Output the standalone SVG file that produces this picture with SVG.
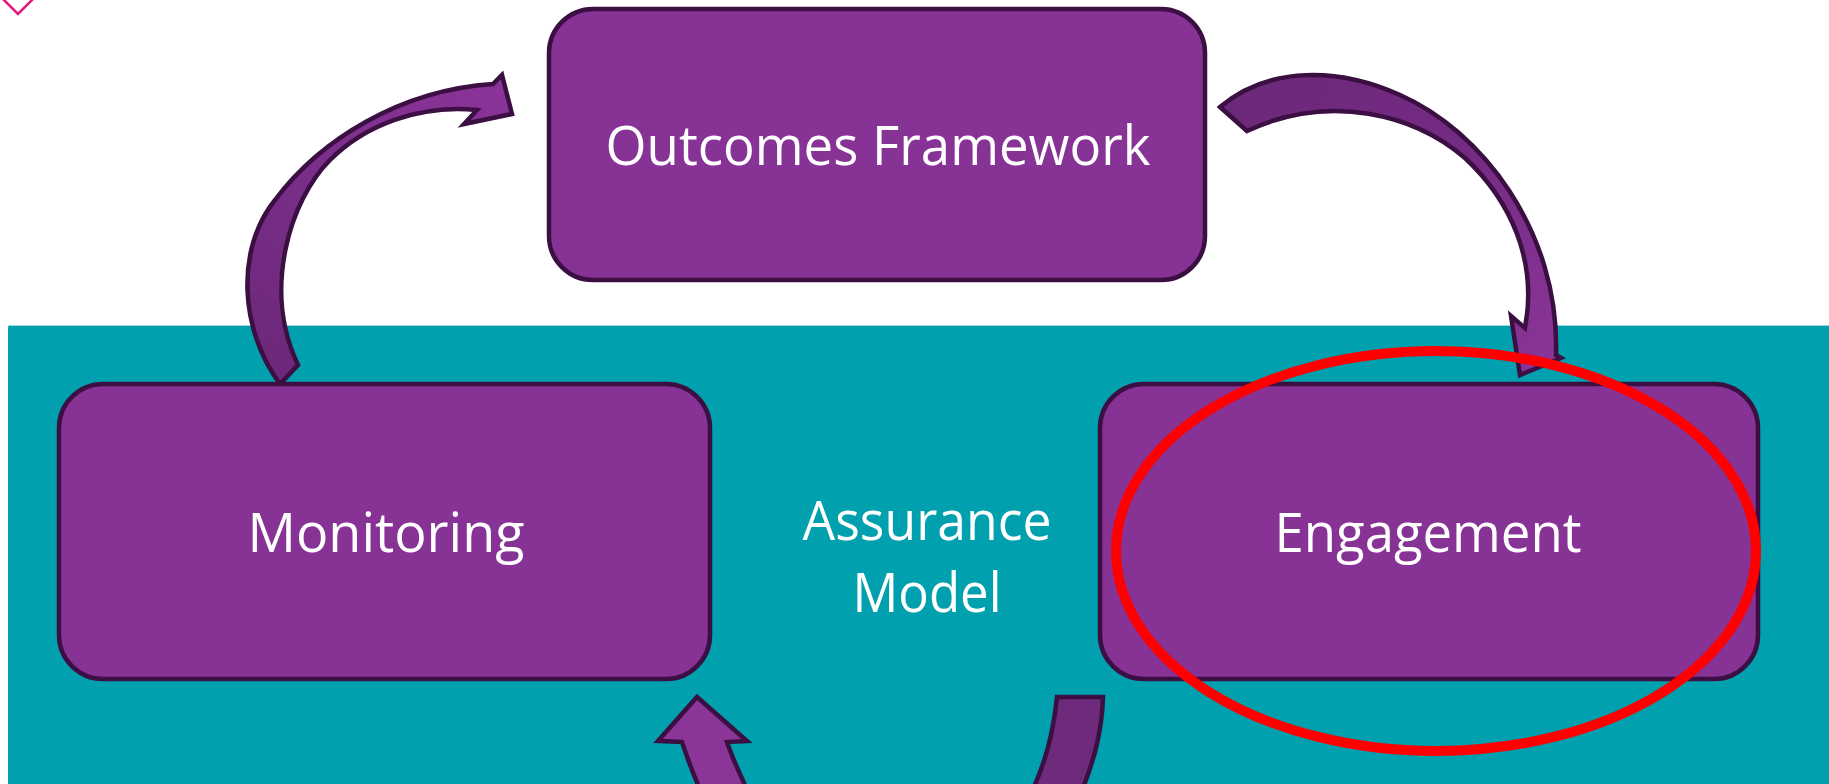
<svg xmlns="http://www.w3.org/2000/svg" width="1829" height="784" viewBox="0 0 1829 784">
<style>
.box{fill:#873396;stroke:#3B0F42;stroke-width:4.5}
.arr{stroke:#3B0F42;stroke-width:4.5;stroke-linejoin:miter}
.lbl{font-family:"Open Sans","Noto Sans",sans-serif;font-size:55px;fill:#FFFFFF;text-anchor:middle}
</style>
<defs>
<linearGradient id="gL" x1="280" y1="384" x2="510" y2="100" gradientUnits="userSpaceOnUse">
<stop offset="0" stop-color="#6C2879"/><stop offset="0.5" stop-color="#7A2E89"/><stop offset="1" stop-color="#8A3499"/>
</linearGradient>
<linearGradient id="gR" x1="1230" y1="110" x2="1540" y2="370" gradientUnits="userSpaceOnUse">
<stop offset="0" stop-color="#6C2879"/><stop offset="0.5" stop-color="#742B83"/><stop offset="1" stop-color="#883597"/>
</linearGradient>
</defs>
<rect width="1829" height="784" fill="#FFFFFF"/>
<polygon points="4,0 18,14 32,0 18,-14" fill="none" stroke="#E6177A" stroke-width="2.5"/>
<rect x="8" y="325" width="1830" height="470" rx="3" fill="#00A0AF"/>
<line x1="10" y1="325.5" x2="1829" y2="325.5" stroke="#9FD8DF" stroke-width="1"/>
<g id="connectors">
<path id="arrow-monitoring-outcomes" class="arr" fill="url(#gL)" d="M280,384 C240,330 235,250 275,200 C320,140 400,90 493,84 L502,75 L512,114 L464,124 L477,110 C420,104 365,125 330,160 C290,200 262,290 298,365 Z"/>
<path id="arrow-outcomes-engagement" class="arr" fill="url(#gR)" d="M1247,131 L1220,107 C1270,65 1340,68 1400,95 C1480,130 1560,230 1556,355 L1561,358 L1520,375 L1511,316 L1525,328 C1538,260 1510,200 1465,158 C1415,115 1330,92 1247,131 Z"/>
<path id="arrow-bottom-left" class="arr" fill="#8B3599" d="M697,697 L747,741 L727,742 C733,760 740,775 752,800 L705,800 C695,780 688,760 682,742 L658,741 Z"/>
<path id="arrow-bottom-right" class="arr" fill="#6E2A7B" d="M1057,697 L1103,697 C1102,730 1095,760 1078,800 L1028,800 C1045,765 1053,735 1057,697 Z"/>
</g>
<g id="node-outcomes">
<rect class="box" x="549" y="9" width="656" height="271" rx="44"/>
<text class="lbl" x="878" y="165" textLength="545" lengthAdjust="spacingAndGlyphs">Outcomes Framework</text>
</g>
<g id="node-monitoring">
<rect class="box" x="59" y="384" width="651" height="295" rx="44"/>
<text class="lbl" x="386" y="552" textLength="277" lengthAdjust="spacingAndGlyphs">Monitoring</text>
</g>
<g id="node-engagement">
<rect class="box" x="1100" y="384" width="658" height="295" rx="44"/>
<text class="lbl" x="1428" y="552" textLength="307" lengthAdjust="spacingAndGlyphs">Engagement</text>
</g>
<g id="label-assurance">
<text class="lbl" x="927" y="540" textLength="249" lengthAdjust="spacingAndGlyphs">Assurance</text>
<text class="lbl" x="927" y="612" textLength="149" lengthAdjust="spacingAndGlyphs">Model</text>
</g>
<ellipse id="highlight" cx="1436" cy="551" rx="320" ry="200" fill="none" stroke="#FF0000" stroke-width="10"/>
</svg>
